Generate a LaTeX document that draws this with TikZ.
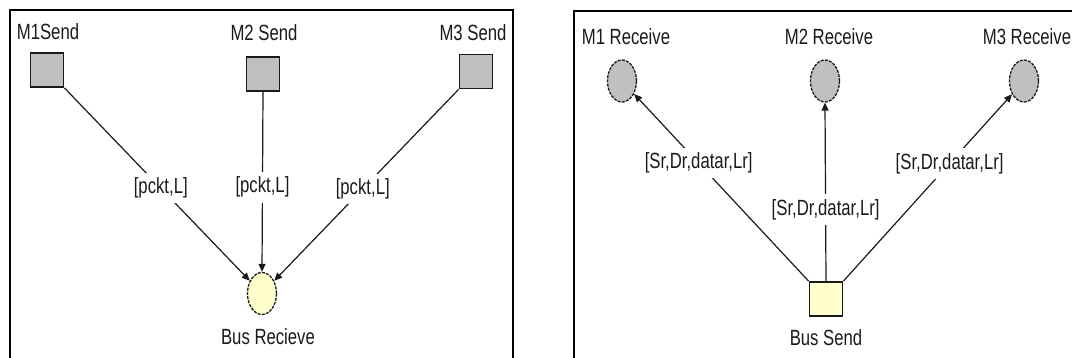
\documentclass[tikz,border=0pt]{standalone}
\usepackage{fontspec}
\setmainfont{Liberation Sans}[FakeStretch=0.76]
\usetikzlibrary{arrows.meta,shapes.geometric}
\definecolor{boxgray}{HTML}{C0C0C0}
\definecolor{busyellow}{HTML}{FFFFCC}
\definecolor{ink}{HTML}{1A1A1A}
\tikzset{
  frame/.style={draw=black, line width=2.6pt},
  trans/.style={draw=ink, line width=1.8pt, minimum width=33pt, minimum height=34pt, inner sep=0pt},
  place/.style={ellipse, draw=ink, line width=1.3pt, dash pattern=on 3pt off 1.2pt, minimum width=29pt, minimum height=42pt, inner sep=0pt},
  nametext/.style={text=ink, font=\fontsize{22}{26}\selectfont, inner sep=0pt},
  lbl/.style={fill=white, text=ink, font=\fontsize{22}{26}\selectfont, inner sep=5pt},
  arc/.style={draw=ink, line width=1.2pt},
  arcto/.style={arc, -{Triangle[length=8pt,width=7pt]}},
}
\begin{document}
\begin{tikzpicture}[x=1pt,y=-1pt]
\useasboundingbox (0,0) rectangle (1072,358);
\clip (0,0) rectangle (1072,358);
\fill[white] (0,0) rectangle (1072,358);
% frames
\draw[frame] (10,380) -- (10,10) -- (513,10) -- (513,380);
\draw[frame] (574,380) -- (574,11) -- (1090,11);
% left panel
\node[nametext] (t1) at (48,32) {M1Send};
\node[nametext] (t2) at (264,33) {M2 Send};
\node[nametext] (t3) at (473,33) {M3 Send};
\node[trans, fill=boxgray] (m1) at (47,70) {};
\node[trans, fill=boxgray] (m2) at (263,74) {};
\node[trans, fill=boxgray] (m3) at (476,71.5) {};
\node[place, fill=busyellow] (bus) at (262,293.5) {};
\node[nametext] (tb) at (268,337) {Bus Recieve};
\draw[arcto] (m1.south east) -- node[lbl, pos=0.52] {[pckt,L]} (bus);
\draw[arcto] (m2.south) -- node[lbl, pos=0.53] {[pckt,L]} (bus.north);
\draw[arcto] (m3.south west) -- node[lbl, pos=0.52] {[pckt,L]} (bus);
% right panel
\node[nametext] (r1) at (626,37) {M1 Receive};
\node[nametext] (r2) at (829,37) {M2 Receive};
\node[nametext] (r3) at (1027,37) {M3 Receive};
\node[place, fill=boxgray] (p1) at (622,81) {};
\node[place, fill=boxgray] (p2) at (825,81) {};
\node[place, fill=boxgray] (p3) at (1024,81) {};
\node[trans, fill=busyellow] (bs) at (826,299) {};
\node[nametext] (tbs) at (826,338) {Bus Send};
\draw[arcto] (bs.north west) -- node[lbl, pos=0.63] {[Sr,Dr,datar,Lr]} (p1);
\draw[arcto] (bs.north) -- node[lbl, pos=0.40] {[Sr,Dr,datar,Lr]} (p2.south);
\draw[arcto] (bs.north east) -- node[lbl, pos=0.63] {[Sr,Dr,datar,Lr]} (p3);
\end{tikzpicture}
\end{document}
